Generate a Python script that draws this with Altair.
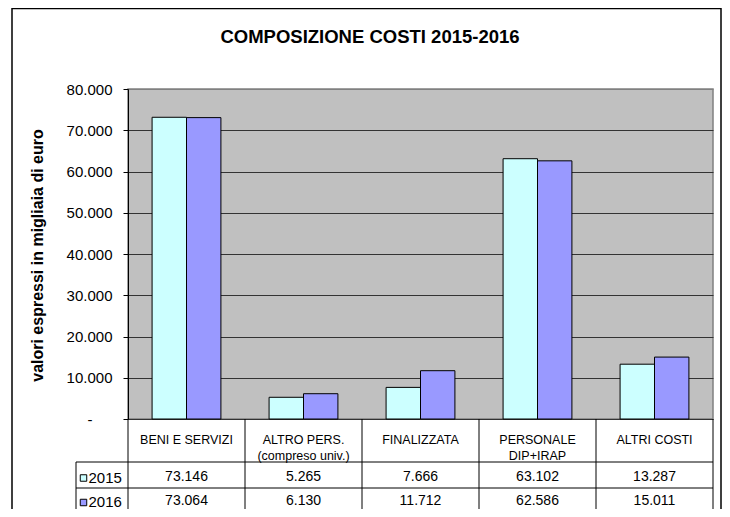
import altair as alt
import pandas as pd

# ---- data ----
categories = ["BENI E SERVIZI", "ALTRO PERS.\n(compreso univ.)", "FINALIZZATA",
              "PERSONALE\nDIP+IRAP", "ALTRI COSTI"]
years = ["2015", "2016"]
values_2015 = [73146, 5265, 7666, 63102, 13287]
values_2016 = [73064, 6130, 11712, 62586, 15011]
y_ticks = [0, 10000, 20000, 30000, 40000, 50000, 60000, 70000, 80000]
colors = ["#CCFFFF", "#9999FF"]
title_text = "COMPOSIZIONE COSTI 2015-2016"
y_title = "valori espressi in migliaia di euro"

rows = []
for c, a, b in zip(categories, values_2015, values_2016):
    rows.append({"cat": c, "year": "2015", "value": a})
    rows.append({"cat": c, "year": "2016", "value": b})
df = pd.DataFrame(rows)
cat_df = pd.DataFrame({"cat": categories})
year_df = pd.DataFrame({"year": years})

# ---- layout (pixels, relative to plot origin) ----
W, H = 585, 330
FONT = "Liberation Sans"
ROW_Y = {"2015": 387.5, "2016": 412}
ONE = alt.Data(values=[{"k": 0}])

x_scale = alt.Scale(domain=categories, paddingInner=0, paddingOuter=0)
color_scale = alt.Scale(domain=years, range=colors)


def xcat(**kw):
    return alt.X("cat:N", scale=x_scale, axis=None, sort=categories, **kw)


fmt = "replace(format(datum.value, ','), ',', '.')"

bars = alt.Chart(df).mark_bar(stroke="black", strokeWidth=1).encode(
    x=xcat(),
    xOffset=alt.XOffset("year:N", scale=alt.Scale(domain=years, paddingInner=0, paddingOuter=0.7)),
    y=alt.Y(
        "value:Q",
        scale=alt.Scale(domain=[0, 80000], nice=False),
        axis=alt.Axis(
            values=y_ticks,
            title=y_title,
            titleFont=FONT,
            titleFontSize=16,
            titleFontWeight="bold",
            titleColor="black",
            titleX=-91,
            titleY=166,
            titleAngle=270,
            titleAlign="center",
            titleBaseline="middle",
            labelExpr="datum.value == 0 ? '-' : " + fmt,
            labelFont=FONT,
            labelFontSize=15,
            labelColor="black",
            labelPadding=alt.condition("datum.value == 0", alt.value(31), alt.value(11)),
            tickSize=5,
            tickColor="black",
            domainColor="black",
            grid=True,
            gridColor=alt.condition("datum.value == 80000", alt.value("#808080"), alt.value("#333333")),
            gridWidth=1,
        ),
    ),
    color=alt.Color("year:N", scale=color_scale, legend=None),
)

# chart title
title = alt.Chart(ONE).mark_text(
    text=title_text, fontSize=18.5, fontWeight="bold", font=FONT, color="black",
    align="center", baseline="middle",
).encode(x=alt.value(242), y=alt.value(-52))

# outer frame
frame = alt.Chart(ONE).mark_rect(fillOpacity=0, stroke="black", strokeWidth=1.5).encode(
    x=alt.value(-116), x2=alt.value(593), y=alt.value(-80.5), y2=alt.value(440)
)

# data table header labels
header = alt.Chart(cat_df).mark_text(
    lineBreak="\n", fontSize=12.5, font=FONT, color="black", baseline="middle", lineHeight=16
).encode(x=xcat(), y=alt.value(351), text="cat:N")

layers = [frame, bars, title, header]

for yr in years:
    vals = alt.Chart(df).transform_filter(alt.datum.year == yr).transform_calculate(
        lbl=fmt
    ).mark_text(fontSize=14, font=FONT, color="black", baseline="middle").encode(
        x=xcat(), y=alt.value(ROW_Y[yr]), text="lbl:N"
    )
    key = alt.Chart(year_df).transform_filter(alt.datum.year == yr).mark_square(
        size=42, stroke="black", strokeWidth=1, opacity=1
    ).encode(
        x=alt.value(-44.5), y=alt.value(ROW_Y[yr] + 1.5),
        color=alt.Color("year:N", scale=color_scale, legend=None),
    )
    key_txt = alt.Chart(year_df).transform_filter(alt.datum.year == yr).mark_text(
        fontSize=15, font=FONT, color="black", align="left", baseline="middle"
    ).encode(x=alt.value(-39.5), y=alt.value(ROW_Y[yr] + 1), text="year:N")
    layers += [vals, key, key_txt]

# table grid lines
for yy in [373, 399, 423]:
    layers.append(alt.Chart(ONE).mark_rule(color="black", strokeWidth=1).encode(
        x=alt.value(-52), x2=alt.value(W), y=alt.value(yy)))
vlines = alt.Chart(cat_df).mark_rule(color="black", strokeWidth=1).encode(
    x=xcat(bandPosition=0), y=alt.value(H), y2=alt.value(423))
layers.append(vlines)
layers.append(alt.Chart(ONE).mark_rule(color="black", strokeWidth=1).encode(
    x=alt.value(W), y=alt.value(H), y2=alt.value(423)))
layers.append(alt.Chart(ONE).mark_rule(color="black", strokeWidth=1).encode(
    x=alt.value(-52), y=alt.value(373), y2=alt.value(423)))

chart = alt.layer(*layers).properties(
    width=W, height=H,
    autosize=alt.AutoSizeParams(type="none"),
    padding={"left": 120, "top": 81, "right": 9, "bottom": 90},
    background="white",
).configure(
    font=FONT,
    view=alt.ViewConfig(fill="#C0C0C0", stroke="#808080", strokeWidth=1.5),
)

chart.save("out.html", embed_options={"renderer": "svg", "actions": False})
